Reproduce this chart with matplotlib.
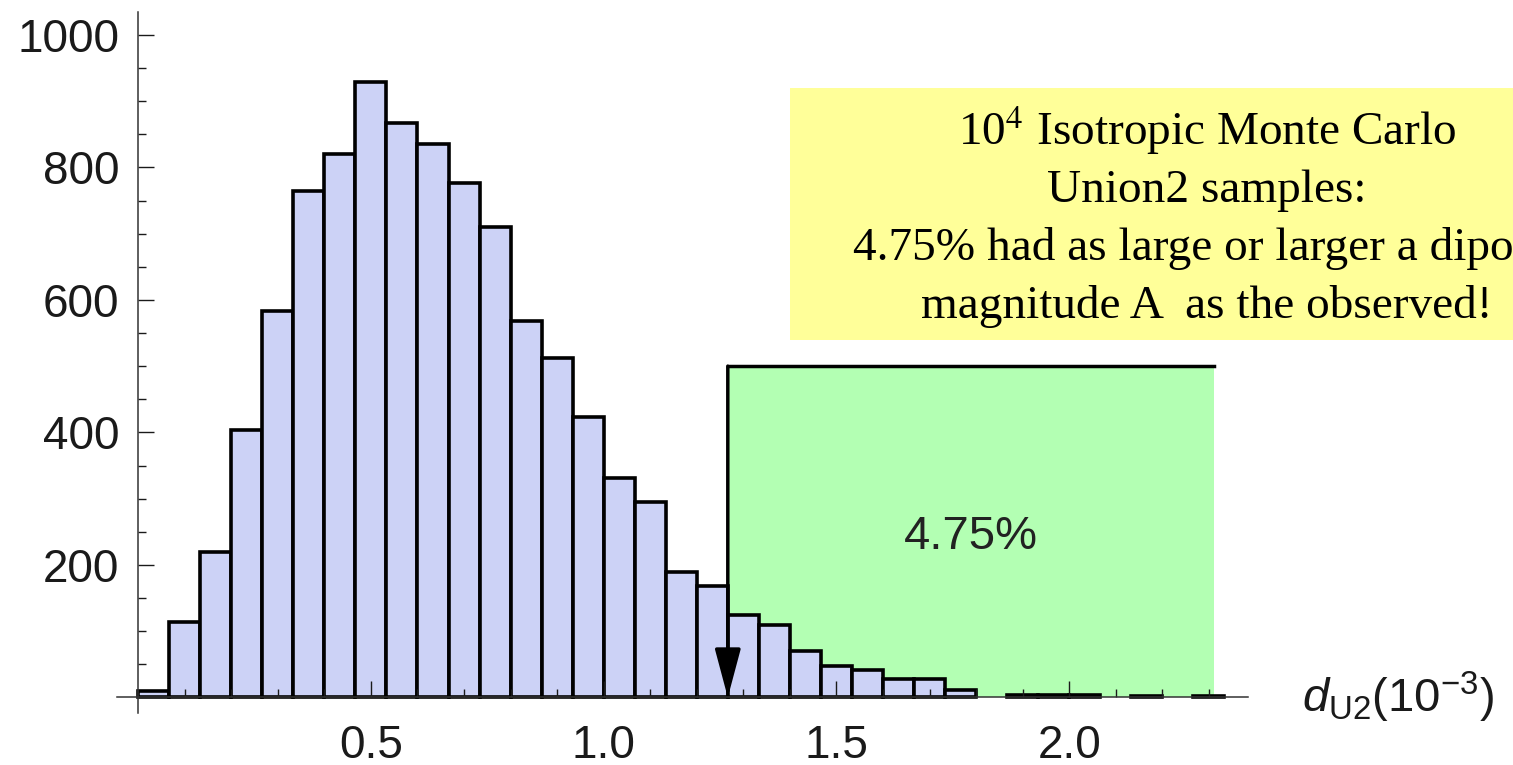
import numpy as np
import matplotlib
matplotlib.use("Agg")
import matplotlib.pyplot as plt
from matplotlib.patches import Rectangle

# Histograma de 10^4 amostras Monte Carlo isotropicas (Union2)
largura_bin = 1 / 15
contagens = [10, 114, 220, 403, 583, 765, 821, 929, 867, 836, 777, 710,
             569, 512, 423, 332, 295, 190, 169, 124, 110, 70, 48, 42,
             28, 28, 12, 0, 3, 3, 3, 0, 2, 0, 2]

# Regiao acima do valor observado
valor_observado = 19 / 15
fim_regiao = 2.312
altura_regiao = 500
texto_percentual = "4.75%"

xticks_major = [0.5, 1.0, 1.5, 2.0]
xtick_labels = ["0.5", "1.0", "1.5", "2.0"]
yticks_major = [200, 400, 600, 800, 1000]
ytick_labels = ["200", "400", "600", "800", "1000"]

linhas_caixa = ["10$^{4}$ Isotropic Monte Carlo",
                "Union2 samples:",
                "4.75% had as large or larger a dipole",
                "magnitude A  as the observed!"]

cor_barra = "#ccd2f6"
cor_verde = "#b3ffb3"
cor_amarela = "#ffff99"

W, H = 1513, 765

plt.rcParams['font.family'] = ['Liberation Sans', 'DejaVu Sans']
plt.rcParams['mathtext.fontset'] = 'custom'
plt.rcParams['mathtext.rm'] = 'Liberation Sans'
plt.rcParams['mathtext.it'] = 'Liberation Sans:italic'
plt.rcParams['mathtext.bf'] = 'Liberation Sans:bold'


def fig_px(x, y):
    """Converte pixel (origem no topo esquerdo) para fracao da figura."""
    return x / W, 1 - y / H


fig = plt.figure(figsize=(W / 100, H / 100), dpi=100)
ax = fig.add_axes([117.25 / W, (H - 712.7) / H, (1247.9 - 117.25) / W, (712.7 - 11.8) / H])
ax.set_xlim(-0.045, 2.384)
ax.set_ylim(-23, 1035)

# Barras (bins vazios nao sao desenhados)
bordas = np.arange(len(contagens)) * largura_bin
cont = np.array(contagens)
mask = cont > 0
ax.bar(bordas[mask], cont[mask], width=largura_bin, align='edge',
       color=cor_barra, edgecolor='black', linewidth=2.6, zorder=1)

# Regiao verde com seta
ax.add_patch(Rectangle((valor_observado, 0), fim_regiao - valor_observado, altura_regiao,
                       facecolor=cor_verde, edgecolor='none', zorder=0.5))
ax.plot([valor_observado, fim_regiao], [altura_regiao, altura_regiao],
        color='black', lw=2.5, solid_capstyle='projecting', zorder=3)
ax.annotate('', xy=(valor_observado, 0), xytext=(valor_observado, altura_regiao),
            arrowprops=dict(arrowstyle='-|>,head_length=1.5,head_width=0.4',
                            mutation_scale=20, color='black', lw=2.5,
                            shrinkA=0, shrinkB=0), zorder=3)
ax.text((valor_observado + fim_regiao) / 2, altura_regiao / 2, texto_percentual,
        ha='center', va='center_baseline', fontsize=34, color='#222222', zorder=4)

# Eixos estilo Mathematica
for lado in ['top', 'right']:
    ax.spines[lado].set_visible(False)
for lado in ['left', 'bottom']:
    ax.spines[lado].set_position(('data', 0))
    ax.spines[lado].set_color('#333333')
    ax.spines[lado].set_linewidth(1.1)

ax.set_xticks(xticks_major)
ax.set_xticklabels(xtick_labels)
ax.set_xticks([v / 10 for v in range(1, 24) if v % 5 != 0], minor=True)
ax.set_yticks(yticks_major)
ax.set_yticklabels(ytick_labels)
ax.set_yticks([v for v in range(50, 1001, 50) if v % 200 != 0], minor=True)

ax.tick_params(which='both', direction='in', colors='#1a1a1a', labelsize=33, width=1.0)
ax.tick_params(which='major', length=11.5)
ax.tick_params(which='minor', length=6)
ax.tick_params(axis='x', which='major', pad=19)
ax.tick_params(axis='y', which='major', pad=13.5)

ax.text(2.5, -23, r'$d_{\mathrm{U2}}(10^{-3})$', fontsize=34, ha='left',
        va='baseline', clip_on=False, color='#1a1a1a')

# Caixa amarela com o texto
x0, y1 = fig_px(790, 340)
x1, y0 = fig_px(1530, 88)
fig.add_artist(Rectangle((x0, y1), x1 - x0, y0 - y1, transform=fig.transFigure,
                         facecolor=cor_amarela, edgecolor='none', zorder=5))
bases = [145, 202, 260, 318]
for i, (linha, base) in enumerate(zip(linhas_caixa, bases)):
    if i == 2:
        fx, fy = fig_px(853, base)
        ha = 'left'
    else:
        fx, fy = fig_px(1207, base)
        ha = 'center'
    fig.text(fx, fy, linha, ha=ha, va='baseline', fontsize=34,
             family='Liberation Serif', math_fontfamily='stix', color='black', zorder=6)

fig.savefig('out.png', dpi=100)
